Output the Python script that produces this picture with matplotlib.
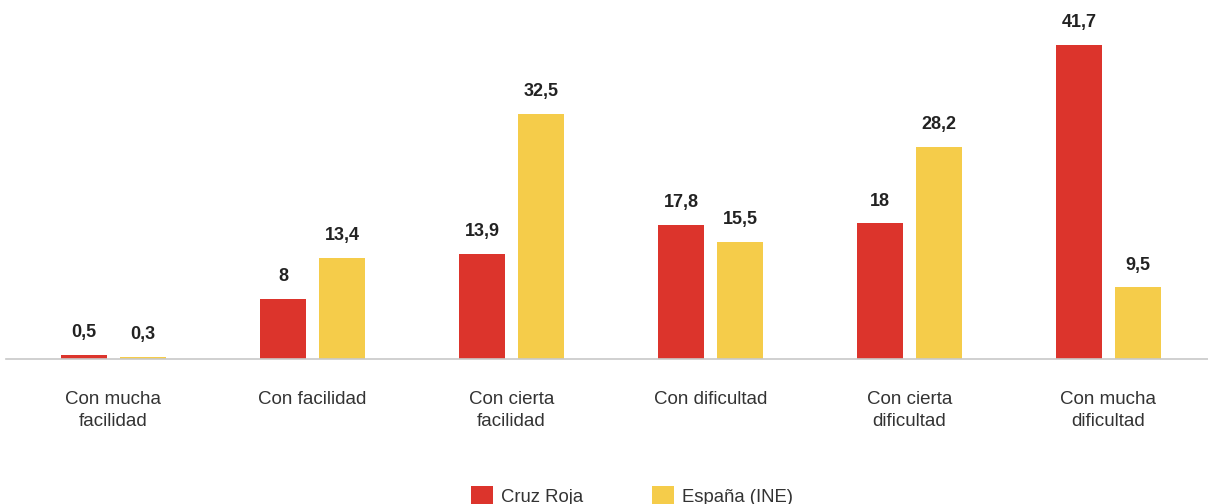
import numpy as np
import matplotlib
matplotlib.use("Agg")
import matplotlib.pyplot as plt

plt.rcParams['font.family'] = ['Liberation Sans', 'DejaVu Sans']

categories = ["Con mucha\nfacilidad", "Con facilidad", "Con cierta\nfacilidad",
              "Con dificultad", "Con cierta\ndificultad", "Con mucha\ndificultad"]
cruz_roja = [0.5, 8, 13.9, 17.8, 18, 41.7]
espana_ine = [0.3, 13.4, 32.5, 15.5, 28.2, 9.5]
series_names = ["Cruz Roja", "España (INE)"]

RED = "#DC342C"
YELLOW = "#F5CC4A"


def fmt(v):
    # spanish decimal comma, no trailing ,0
    s = f"{v:g}"
    return s.replace(".", ",")


fig = plt.figure(figsize=(12.08, 5.04), dpi=100)
ax = fig.add_axes([6 / 1208, 145 / 504, 1 - 6 / 1208, 339 / 504])

x = np.arange(len(categories))
w = 0.231
off = 0.148
bars_r = ax.bar(x - off, cruz_roja, w, color=RED, label=series_names[0])
bars_y = ax.bar(x + off, espana_ine, w, color=YELLOW, label=series_names[1])

for bars, vals in ((bars_r, cruz_roja), (bars_y, espana_ine)):
    for b, v in zip(bars, vals):
        ax.annotate(fmt(v), (b.get_x() + b.get_width() / 2, v),
                    xytext=(0, 10), textcoords="offset points",
                    ha="center", va="bottom", fontsize=13,
                    fontweight="bold", color="#222222")

ax.set_xlim(-0.54, len(categories) - 0.5)
ax.set_ylim(0, 45)
ax.set_xticks(x)
ax.set_xticklabels(categories, fontsize=13.5, color="#333333", linespacing=1.38)
ax.tick_params(axis="x", length=0, pad=23)
ax.set_yticks([])
for side in ("top", "right", "left"):
    ax.spines[side].set_visible(False)
ax.spines["bottom"].set_color("#C8C8C8")
ax.spines["bottom"].set_linewidth(1.2)

fig.legend(loc="center", bbox_to_anchor=(0.523, 8 / 504), ncol=2, frameon=False,
           fontsize=13.3, handlelength=1.2, handleheight=1.2, columnspacing=3.7,
           handletextpad=0.45, labelcolor="#333333")

fig.savefig("out.png", dpi=100)
